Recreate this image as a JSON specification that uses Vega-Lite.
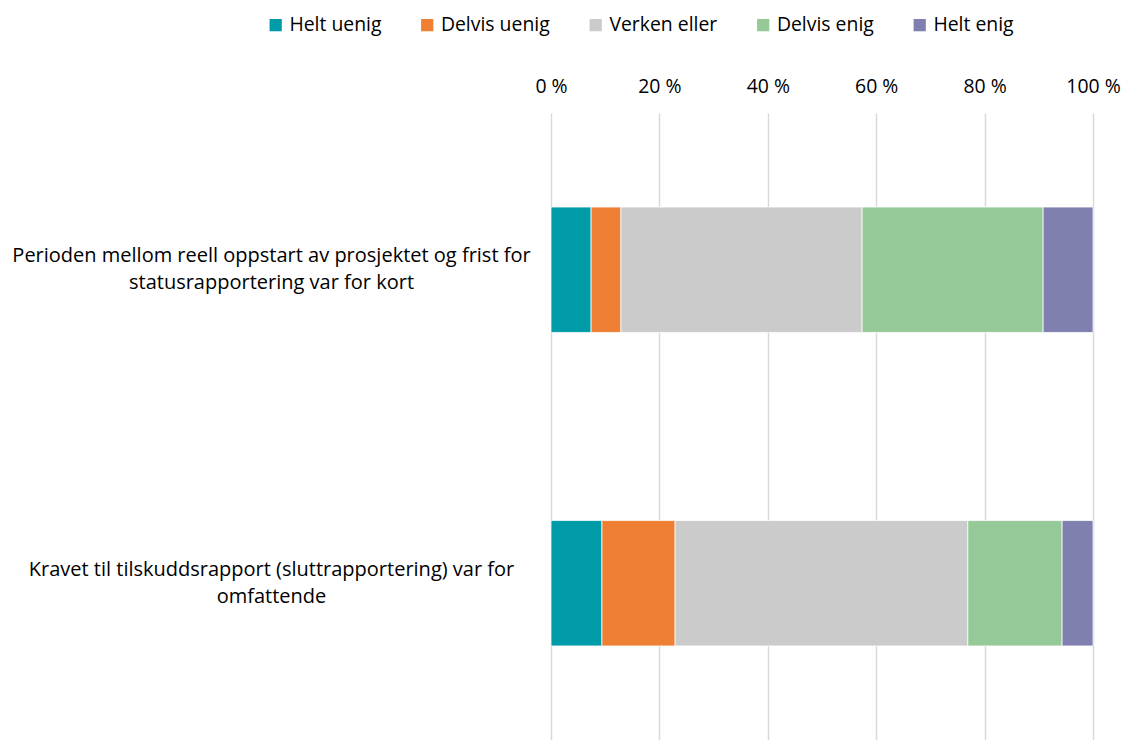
{
  "$schema": "https://vega.github.io/schema/vega-lite/v6.json",
  "autosize": {"type": "none"},
  "padding": {"left": 551, "top": 113, "right": 30, "bottom": 0},
  "width": 542,
  "height": 627,
  "background": "white",
  "config": {
    "view": {"stroke": null},
    "font": "Open Sans",
    "text": {"color": "#000000"}
  },
  "data": {
    "values": [
      {"item": "Perioden mellom reell oppstart av prosjektet og frist for|statusrapportering var for kort", "answer": "Helt uenig", "ord": 1, "pct": 7.4},
      {"item": "Perioden mellom reell oppstart av prosjektet og frist for|statusrapportering var for kort", "answer": "Delvis uenig", "ord": 2, "pct": 5.5},
      {"item": "Perioden mellom reell oppstart av prosjektet og frist for|statusrapportering var for kort", "answer": "Verken eller", "ord": 3, "pct": 44.5},
      {"item": "Perioden mellom reell oppstart av prosjektet og frist for|statusrapportering var for kort", "answer": "Delvis enig", "ord": 4, "pct": 33.4},
      {"item": "Perioden mellom reell oppstart av prosjektet og frist for|statusrapportering var for kort", "answer": "Helt enig", "ord": 5, "pct": 9.2},
      {"item": "Kravet til tilskuddsrapport (sluttrapportering) var for|omfattende", "answer": "Helt uenig", "ord": 1, "pct": 9.4},
      {"item": "Kravet til tilskuddsrapport (sluttrapportering) var for|omfattende", "answer": "Delvis uenig", "ord": 2, "pct": 13.5},
      {"item": "Kravet til tilskuddsrapport (sluttrapportering) var for|omfattende", "answer": "Verken eller", "ord": 3, "pct": 54.0},
      {"item": "Kravet til tilskuddsrapport (sluttrapportering) var for|omfattende", "answer": "Delvis enig", "ord": 4, "pct": 17.4},
      {"item": "Kravet til tilskuddsrapport (sluttrapportering) var for|omfattende", "answer": "Helt enig", "ord": 5, "pct": 5.7}
    ]
  },
  "mark": {"type": "bar", "stroke": "white", "strokeWidth": 0.75},
  "encoding": {
    "y": {
      "field": "item",
      "type": "nominal",
      "sort": null,
      "scale": {"paddingInner": 0.6, "paddingOuter": 0.3},
      "axis": {
        "title": null,
        "domain": false,
        "ticks": false,
        "labelAlign": "center",
        "labelBaseline": "middle",
        "labelPadding": 280,
        "labelOffset": -13.5,
        "labelLimit": 0,
        "labelFontSize": 20,
        "labelColor": "#000000",
        "labelLineHeight": 27,
        "labelExpr": "split(datum.label, '|')"
      }
    },
    "x": {
      "field": "pct",
      "type": "quantitative",
      "stack": true,
      "scale": {"domain": [0, 100], "nice": false},
      "axis": {
        "orient": "top",
        "title": null,
        "values": [0, 20, 40, 60, 80, 100],
        "labelExpr": "datum.value + ' %'",
        "labelFlush": false,
        "labelOverlap": false,
        "domain": false,
        "ticks": false,
        "labelPadding": 17,
        "labelFontSize": 19.4,
        "labelColor": "#000000",
        "grid": true,
        "gridColor": "#D9D9D9",
        "gridWidth": 1.5
      }
    },
    "color": {
      "field": "answer",
      "type": "nominal",
      "scale": {
        "domain": ["Helt uenig", "Delvis uenig", "Verken eller", "Delvis enig", "Helt enig"],
        "range": ["#009BA9", "#EE7F33", "#CBCBCB", "#96C998", "#8080B0"]
      },
      "legend": {
        "title": null,
        "orient": "none",
        "direction": "horizontal",
        "legendX": -285,
        "legendY": -98,
        "symbolType": "square",
        "symbolSize": 150,
        "symbolStrokeWidth": 0,
        "labelFontSize": 19.4,
        "labelColor": "#000000",
        "labelOffset": 4,
        "columnPadding": 35.5,
        "labelLimit": 0
      }
    },
    "order": {"field": "ord", "type": "quantitative"}
  }
}
